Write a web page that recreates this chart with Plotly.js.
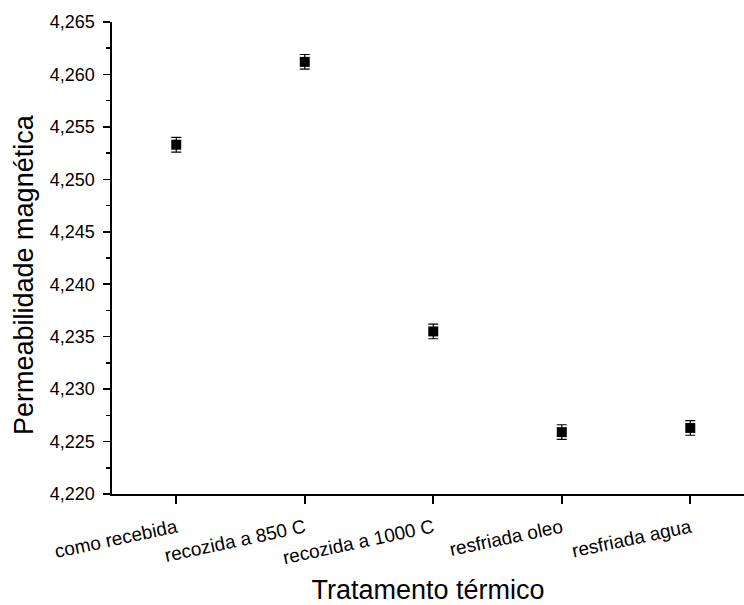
<!DOCTYPE html>
<html>
<head>
<meta charset="utf-8">
<script src="https://cdn.plot.ly/plotly-3.0.1.min.js"></script>
<style>html,body{margin:0;padding:0;background:#fff;}</style>
</head>
<body>
<div id="chart" style="width:744px;height:605px;"></div>
<script>
const categories = ["como recebida", "recozida a 850 C", "recozida a 1000 C", "resfriada oleo", "resfriada agua"];
const permeabilidade = [4.2533, 4.2612, 4.2355, 4.2259, 4.2263];
const erro = [0.0007, 0.0007, 0.0007, 0.0007, 0.0007];
const yTitle = "Permeabilidade magnética";
const xTitle = "Tratamento térmico";

const FONT = "Liberation Sans, Arial, sans-serif";

const trace = {
  x: categories,
  y: permeabilidade,
  type: "scatter",
  mode: "markers",
  marker: {symbol: "square", size: 10, color: "#000000"},
  error_y: {type: "data", array: erro, visible: true, color: "#000000", thickness: 1.2, width: 5},
  showlegend: false,
  hoverinfo: "x+y"
};

const layout = {
  width: 744,
  height: 605,
  margin: {l: 112, r: 0, t: 22, b: 111},
  paper_bgcolor: "#ffffff",
  plot_bgcolor: "#ffffff",
  separators: ",.",
  font: {family: FONT, color: "#000000"},
  xaxis: {
    type: "category",
    range: [-0.5, 4.418],
    showgrid: false,
    zeroline: false,
    showline: true,
    linecolor: "#000000",
    linewidth: 1.6,
    ticks: "outside",
    ticklen: 8,
    tickwidth: 1.6,
    tickcolor: "#000000",
    tickangle: -12,
    ticklabelstandoff: 6,
    tickfont: {family: FONT, size: 19, color: "#000000"},
    automargin: false,
    title: {text: xTitle, font: {family: FONT, size: 27, color: "#000000"}, standoff: 25}
  },
  yaxis: {
    range: [4.22, 4.265],
    dtick: 0.005,
    tick0: 4.22,
    tickformat: ".3f",
    ticksuffix: "\u00a0",
    showgrid: false,
    zeroline: false,
    showline: true,
    linecolor: "#000000",
    linewidth: 1.6,
    ticks: "outside",
    ticklen: 7,
    tickwidth: 1.6,
    tickcolor: "#000000",
    tickfont: {family: FONT, size: 18, color: "#000000"},
    minor: {dtick: 0.0025, tick0: 4.22, ticks: "outside", ticklen: 4, tickwidth: 1.6, tickcolor: "#000000", showgrid: false},
    automargin: false
  },
  annotations: [{
    text: yTitle,
    xref: "paper", yref: "paper",
    x: 0, y: 0.5,
    xanchor: "center", yanchor: "middle",
    xshift: -88, yshift: -17,
    textangle: -90,
    showarrow: false,
    font: {family: FONT, size: 27, color: "#000000"}
  }]
};

Plotly.newPlot("chart", [trace], layout, {displayModeBar: false, staticPlot: true});
</script>
</body>
</html>
